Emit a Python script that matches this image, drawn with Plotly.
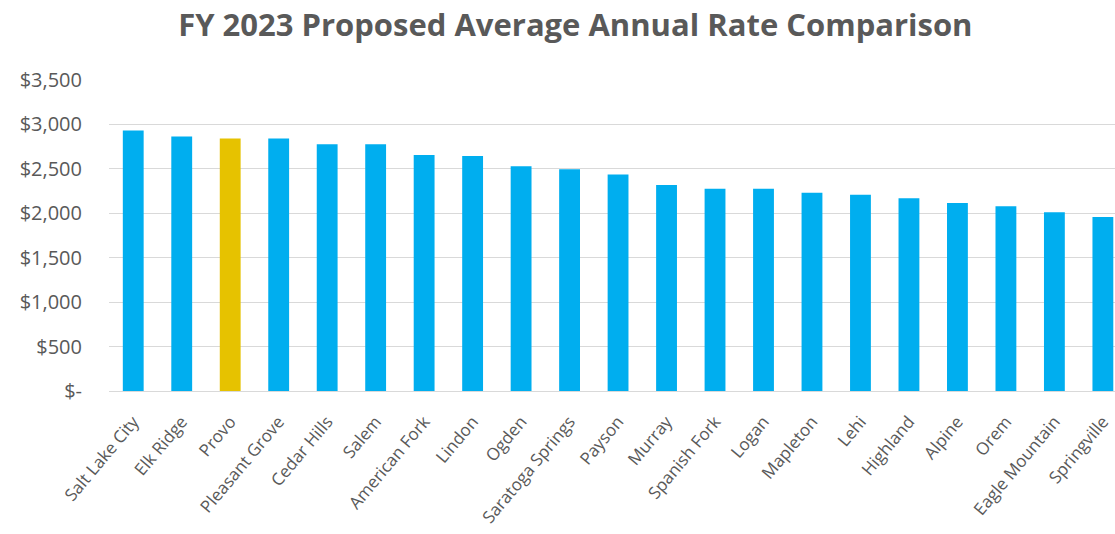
import plotly.graph_objects as go

# Proposed FY 2023 average annual rate by city
cities = [
    "Salt Lake City", "Elk Ridge", "Provo", "Pleasant Grove", "Cedar Hills",
    "Salem", "American Fork", "Lindon", "Ogden", "Saratoga Springs",
    "Payson", "Murray", "Spanish Fork", "Logan", "Mapleton", "Lehi",
    "Highland", "Alpine", "Orem", "Eagle Mountain", "Springville",
]
rates = [
    2932, 2864, 2841, 2841, 2777,
    2777, 2655, 2644, 2530, 2496,
    2436, 2318, 2277, 2277, 2231, 2208,
    2170, 2117, 2080, 2011, 1958,
]
highlight_city = "Provo"

y_tick_values = [0, 500, 1000, 1500, 2000, 2500, 3000, 3500]
y_tick_labels = ["$-", "$500", "$1,000", "$1,500", "$2,000", "$2,500", "$3,000", "$3,500"]

BLUE = "#00AEEF"
GOLD = "#E6C200"
TEXT = "#595959"
GRID = "#D9D9D9"
FONT = "Open Sans, Lato, sans-serif"

colors = [GOLD if c == highlight_city else BLUE for c in cities]

fig = go.Figure(
    go.Bar(
        x=cities,
        y=rates,
        marker=dict(color=colors, line=dict(width=0)),
        width=0.43,
    )
)

fig.update_layout(
    width=1115,
    height=534,
    paper_bgcolor="white",
    plot_bgcolor="white",
    margin=dict(l=109, r=0, t=80, b=143),
    showlegend=False,
    title=dict(
        text="<b>FY 2023 Proposed Average Annual Rate Comparison</b>",
        x=0.516,
        xanchor="center",
        y=0.953,
        yanchor="middle",
        font=dict(family=FONT, size=31, color=TEXT),
    ),
    font=dict(family=FONT, color=TEXT),
)

fig.update_xaxes(
    type="category",
    range=[-0.5, 20.25],
    tickangle=-50,
    tickfont=dict(size=17, color=TEXT),
    showgrid=False,
    showline=True,
    linecolor=GRID,
    linewidth=1,
    ticks="",
    ticklabelstandoff=13,
    automargin=False,
)

fig.update_yaxes(
    range=[0, 3500],
    tickvals=y_tick_values,
    ticktext=y_tick_labels,
    tickfont=dict(size=20, color=TEXT),
    showgrid=True,
    gridcolor=GRID,
    gridwidth=1,
    zeroline=False,
    showline=False,
    ticks="",
    ticklabelstandoff=26,
    automargin=False,
)

fig.write_html("out.html")
